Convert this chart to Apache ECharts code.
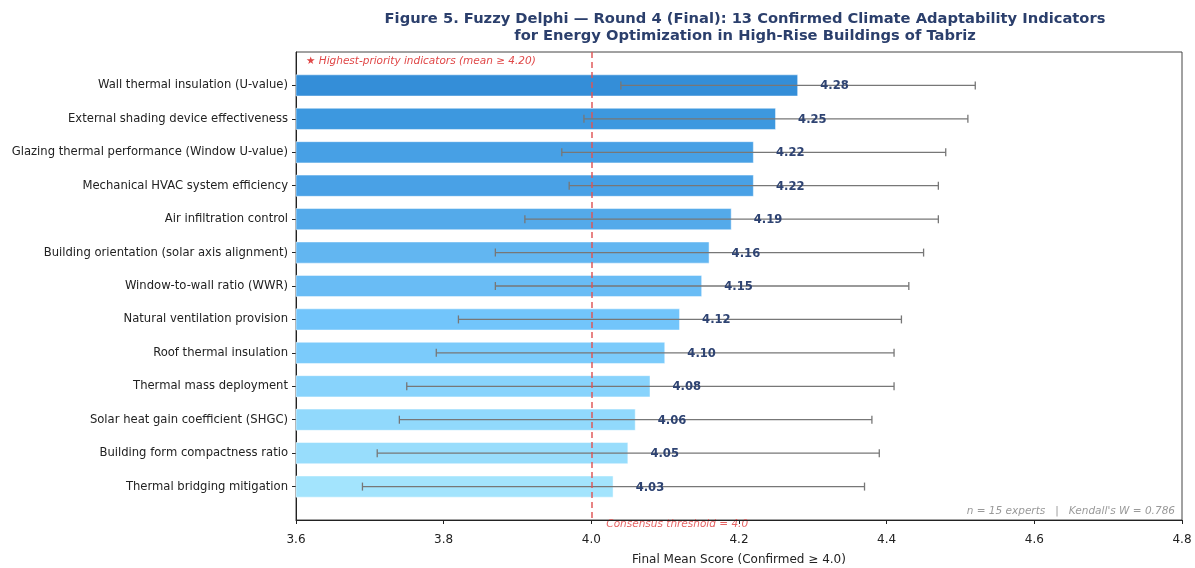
<!DOCTYPE html>
<html>
<head>
<meta charset="utf-8">
<title>Fuzzy Delphi — Round 4</title>
<script src="https://cdn.jsdelivr.net/npm/echarts@6/dist/echarts.min.js"></script>
<style>
  html, body { margin: 0; padding: 0; background: #fff; }
  #chart { width: 1195px; height: 568px; }
</style>
</head>
<body>
<div id="chart"></div>
<script>
// Indicators, top (highest mean) to bottom
const indicators = [
  'Wall thermal insulation (U-value)',
  'External shading device effectiveness',
  'Glazing thermal performance (Window U-value)',
  'Mechanical HVAC system efficiency',
  'Air infiltration control',
  'Building orientation (solar axis alignment)',
  'Window-to-wall ratio (WWR)',
  'Natural ventilation provision',
  'Roof thermal insulation',
  'Thermal mass deployment',
  'Solar heat gain coefficient (SHGC)',
  'Building form compactness ratio',
  'Thermal bridging mitigation'
];
const meanScores = [4.28, 4.25, 4.22, 4.22, 4.19, 4.16, 4.15, 4.12, 4.10, 4.08, 4.06, 4.05, 4.03];
const rangeLow  = [4.04, 3.99, 3.96, 3.97, 3.91, 3.87, 3.87, 3.82, 3.79, 3.75, 3.74, 3.71, 3.69];
const rangeHigh = [4.52, 4.51, 4.48, 4.47, 4.47, 4.45, 4.43, 4.42, 4.41, 4.41, 4.38, 4.39, 4.37];
const barColors = ['#348ed8', '#3d98df', '#47a0e5', '#49a1e6', '#54aaea', '#62b6f1', '#69bcf5',
                   '#72c5fb', '#7bcbfb', '#88d3fc', '#91d9fc', '#98ddfc', '#a3e4fd'];
const xTicks = [3.6, 3.8, 4.0, 4.2, 4.4, 4.6, 4.8];
const threshold = 4.0;

// padded category list so rows sit one step inside the frame
const cats = [''].concat(indicators, ['']);
const barData = ['-'].concat(meanScores.map((v, i) => ({
  value: v,
  itemStyle: { color: barColors[i] }
})), ['-']);
const errData = meanScores.map((v, i) => [rangeLow[i], rangeHigh[i], i + 1, v]);

const FONT = 'DejaVu Sans';
const chart = echarts.init(document.getElementById('chart'), null, { renderer: 'canvas' });

chart.setOption({
  animation: false,
  textStyle: { fontFamily: FONT },
  title: {
    text: 'Figure 5. Fuzzy Delphi — Round 4 (Final): 13 Confirmed Climate Adaptability Indicators\nfor Energy Optimization in High-Rise Buildings of Tabriz',
    left: 740, top: 6, textAlign: 'center',
    textStyle: { fontFamily: FONT, fontSize: 14.7, fontWeight: 'bold', color: '#2b3f6c', lineHeight: 17 }
  },
  grid: { left: 296, right: 13, top: 52, bottom: 48, containLabel: false, outerBoundsMode: 'none',
          show: true, borderColor: '#444', borderWidth: 1, backgroundColor: 'transparent' },
  xAxis: {
    type: 'value', min: xTicks[0], max: xTicks[xTicks.length - 1], interval: 0.2,
    name: 'Final Mean Score (Confirmed ≥ 4.0)', nameLocation: 'middle', nameGap: 34,
    nameTextStyle: { fontFamily: FONT, fontSize: 12, color: '#222' },
    axisLine: { show: true, lineStyle: { color: '#222', width: 1 } },
    axisTick: { show: true, length: 4, lineStyle: { color: '#222' } },
    axisLabel: { fontFamily: FONT, fontSize: 12, color: '#222', margin: 14,
                 formatter: v => v.toFixed(1) },
    splitLine: { show: false }
  },
  yAxis: {
    type: 'category', data: cats, inverse: true, boundaryGap: false,
    axisLine: { show: true, lineStyle: { color: '#222', width: 1 } },
    axisTick: { show: true, length: 4, lineStyle: { color: '#222' },
                interval: (idx, val) => val !== '' },
    axisLabel: { fontFamily: FONT, fontSize: 11.6, color: '#222', margin: 8, interval: 0 },
    splitLine: { show: false }
  },
  series: [
    {
      type: 'bar', data: barData, barWidth: 22, z: 2,
      itemStyle: { borderColor: 'rgba(255,255,255,0.6)', borderWidth: 0.8 },
      markLine: {
        silent: true, symbol: 'none', z: 5,
        lineStyle: { color: '#e05555', type: [6, 4], width: 1.6, opacity: 0.9 },
        label: { show: false },
        data: [{ xAxis: threshold }]
      }
    },
    {
      type: 'custom', z: 4,
      data: errData,
      encode: { x: [0, 1], y: 2 },
      renderItem: function (params, api) {
        const lo = api.value(0), hi = api.value(1), row = api.value(2), mean = api.value(3);
        const pLo = api.coord([lo, row]);
        const pHi = api.coord([hi, row]);
        const pTxt = api.coord([mean + 0.03, row]);
        const cap = 4;
        const st = { stroke: '#777', lineWidth: 1.3 };
        return {
          type: 'group',
          children: [
            { type: 'line', shape: { x1: pLo[0], y1: pLo[1], x2: pHi[0], y2: pHi[1] }, style: st },
            { type: 'line', shape: { x1: pLo[0], y1: pLo[1] - cap, x2: pLo[0], y2: pLo[1] + cap }, style: st },
            { type: 'line', shape: { x1: pHi[0], y1: pHi[1] - cap, x2: pHi[0], y2: pHi[1] + cap }, style: st },
            { type: 'text', x: pTxt[0], y: pTxt[1] + 1,
              style: { text: mean.toFixed(2), fill: '#2e4372', font: 'bold 11.6px "DejaVu Sans"',
                       align: 'left', verticalAlign: 'middle' } }
          ]
        };
      }
    }
  ]
});

// annotations placed from the axis scales
const thrPx = chart.convertToPixel({ gridIndex: 0 }, [threshold, 14]);
const endPx = chart.convertToPixel({ gridIndex: 0 }, [xTicks[xTicks.length - 1], 14]);
chart.setOption({
  graphic: [
    { type: 'text', left: 306, top: 56,
      style: { text: '★ Highest-priority indicators (mean ≥ 4.20)', fill: '#e04848',
               font: 'italic 10.5px "DejaVu Sans"' } },
    { type: 'text', x: thrPx[0] + 15, y: thrPx[1] + 4,
      style: { text: 'Consensus threshold = 4.0', fill: 'rgba(224,72,72,0.85)',
               font: 'italic 10.5px "DejaVu Sans"', align: 'left', verticalAlign: 'middle' } },
    { type: 'text', x: endPx[0] - 7, y: thrPx[1] - 9,
      style: { text: "n = 15 experts   |   Kendall's W = 0.786", fill: '#999',
               font: 'italic 10.5px "DejaVu Sans"', align: 'right', verticalAlign: 'middle' } }
  ]
});
</script>
</body>
</html>
